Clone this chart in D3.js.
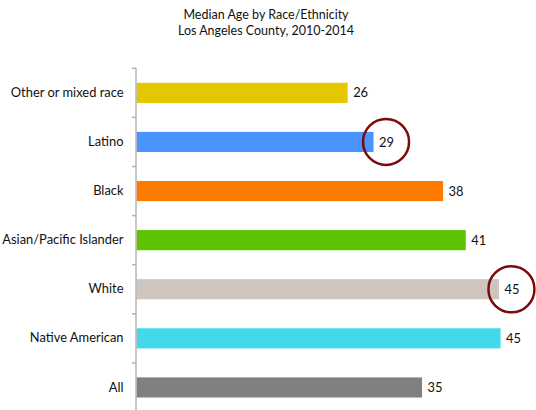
<!DOCTYPE html>
<html>
<head>
<meta charset="utf-8">
<script src="https://cdn.jsdelivr.net/npm/d3@7"></script>
<style>
  html, body { margin: 0; padding: 0; background: #fff; }
  svg { display: block; }
  text { font-family: Lato, "Open Sans", sans-serif; fill: #111; }
</style>
</head>
<body>
<svg id="chart" width="536" height="410"></svg>
<script>
const categories = ["Other or mixed race", "Latino", "Black", "Asian/Pacific Islander", "White", "Native American", "All"];
const medianAge = [26.1, 29.3, 37.9, 40.7, 44.8, 45.0, 35.3];
const valueLabels = ["26", "29", "38", "41", "45", "45", "35"];
const barColors = ["#E5C700", "#4A94FF", "#FF7B00", "#5DC300", "#CDC5BE", "#44D9EA", "#808080"];
const highlighted = ["Latino", "White"];
const titleLines = ["Median Age by Race/Ethnicity", "Los Angeles County, 2010-2014"];

const svg = d3.select("#chart");
const x = d3.scaleLinear().domain([0, 50]).range([136.5, 136.5 + 50 * 8.09]);
const y = d3.scaleBand().domain(categories).range([68.3, 412]).paddingInner(0.59).paddingOuter(0.295);

// title
svg.append("g").selectAll("text").data(titleLines).join("text")
  .attr("x", 266).attr("y", (d, i) => 19 + i * 16)
  .attr("text-anchor", "middle").style("font-size", "12.5px").text(d => d);

// bars
svg.append("g").selectAll("rect").data(categories).join("rect")
  .attr("x", x(0)).attr("y", d => y(d))
  .attr("width", (d, i) => x(medianAge[i]) - x(0))
  .attr("height", y.bandwidth())
  .attr("fill", (d, i) => barColors[i]);

// axis
const axis = d3.axisLeft(y).tickSize(0).tickPadding(12.5);
const ag = svg.append("g").attr("transform", `translate(${x(0) - 0.5},0)`).call(axis);
ag.select(".domain").attr("stroke", "#b3b3b3").attr("stroke-width", 1.5)
  .attr("d", `M0,${y.range()[0]}V${y.range()[1]}`);
ag.selectAll(".tick text").style("font-size", "12.9px").style("font-family", "Lato, 'Open Sans', sans-serif").attr("fill", "#111");
// boundary tick marks between categories
const step = y.step();
const bounds = d3.range(categories.length + 1).map(i => y.range()[0] + i * step);
ag.selectAll("line.sep").data(bounds).join("line").attr("class", "sep")
  .attr("x1", -4).attr("x2", 0).attr("y1", d => d).attr("y2", d => d)
  .attr("stroke", "#b3b3b3").attr("stroke-width", 1.5);

// value labels
svg.append("g").selectAll("text").data(categories).join("text")
  .attr("x", (d, i) => x(medianAge[i]) + 5.5)
  .attr("y", d => y(d) + y.bandwidth() / 2)
  .attr("dy", "0.36em").style("font-size", "12.9px")
  .text((d, i) => valueLabels[i]);

// highlight circles
svg.append("g").selectAll("circle").data(highlighted).join("circle")
  .attr("cx", d => x(medianAge[categories.indexOf(d)]) + 12.5)
  .attr("cy", d => y(d) + y.bandwidth() / 2)
  .attr("r", 23)
  .attr("fill", "none").attr("stroke", "#7B0A0A").attr("stroke-width", 2.5);
</script>
</body>
</html>
